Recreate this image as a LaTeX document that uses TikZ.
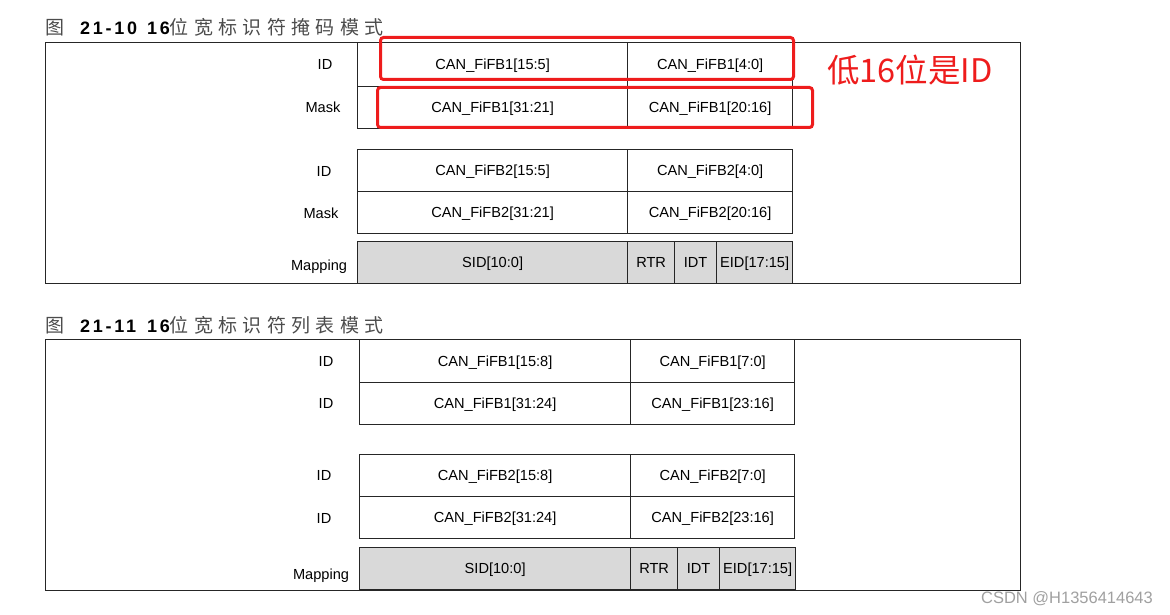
\documentclass[tikz,border=0pt]{standalone}
\usepackage{fontspec}
\setmainfont{Liberation Sans}
\newfontfamily\cjk{Noto Sans CJK SC}
\newfontfamily\titlecjk[LetterSpace=28]{Noto Sans CJK SC}
\newfontfamily\titlenum[LetterSpace=15]{Liberation Sans}
\definecolor{mapgray}{RGB}{217,217,217}
\definecolor{markred}{RGB}{238,28,28}
\definecolor{wmgray}{RGB}{160,160,160}
\tikzset{
  cell/.style={draw=black!85, line width=1.3pt, inner sep=0pt, anchor=north west,
    font=\fontsize{14.6}{16}\selectfont, text=black, text height=10.5pt, text depth=0.5pt},
  mapcell/.style={cell, fill=mapgray},
  lbl/.style={font=\fontsize{14.6}{16}\selectfont, text=black, inner sep=0pt, text height=10.5pt, text depth=0.5pt},
  frame/.style={draw=black!85, line width=1pt, inner sep=0pt, anchor=north west},
  redbox/.style={draw=markred, line width=3pt, rounded corners=3pt, inner sep=0pt, anchor=north west},
  ttl/.style={inner sep=0pt, anchor=base west}
}
\begin{document}
\begin{tikzpicture}[x=1pt,y=-1pt]
\useasboundingbox (0,0) rectangle (1170,615);
% ---------- Figure 21-10 ----------
\node[ttl] (t1a) at (45,34.5) {\fontsize{19}{21}\selectfont\cjk\color{black!70}图};
\node[ttl] (t1b) at (80,34.5) {\fontsize{18}{20}\selectfont\titlenum\bfseries 21-10};
\node[ttl] (t1c) at (147,34.5) {\fontsize{18}{20}\selectfont\titlenum\bfseries 16\fontsize{19}{21}\selectfont\titlecjk\mdseries\color{black!70}位宽标识符掩码模式};
\node[frame, minimum width=975pt, minimum height=241pt] (fr1) at (45,42) {};

\node[cell, minimum width=270pt, minimum height=44pt] (a11) at (357,42) {CAN\_FiFB1[15:5]};
\node[cell, minimum width=165pt, minimum height=44pt] (a12) at (627,42) {CAN\_FiFB1[4:0]};
\node[cell, minimum width=270pt, minimum height=42pt] (a21) at (357,86) {CAN\_FiFB1[31:21]};
\node[cell, minimum width=165pt, minimum height=42pt] (a22) at (627,86) {CAN\_FiFB1[20:16]};

\node[cell, minimum width=270pt, minimum height=42pt] (b11) at (357,149) {CAN\_FiFB2[15:5]};
\node[cell, minimum width=165pt, minimum height=42pt] (b12) at (627,149) {CAN\_FiFB2[4:0]};
\node[cell, minimum width=270pt, minimum height=42pt] (b21) at (357,191) {CAN\_FiFB2[31:21]};
\node[cell, minimum width=165pt, minimum height=42pt] (b22) at (627,191) {CAN\_FiFB2[20:16]};

\node[mapcell, minimum width=270pt, minimum height=42pt] (m11) at (357,241) {SID[10:0]};
\node[mapcell, minimum width=47pt, minimum height=42pt] (m12) at (627,241) {RTR};
\node[mapcell, minimum width=42pt, minimum height=42pt] (m13) at (674,241) {IDT};
\node[mapcell, minimum width=76pt, minimum height=42pt] (m14) at (716,241) {EID[17:15]};

\node[lbl] (l11) at (325,65) {ID};
\node[lbl] (l12) at (323,108) {Mask};
\node[lbl] (l13) at (324,171) {ID};
\node[lbl] (l14) at (321,213) {Mask};
\node[lbl] (l15) at (319,265) {Mapping};

\node[redbox, minimum width=413pt, minimum height=42pt] (r1) at (379,36) {};
\node[redbox, minimum width=435pt, minimum height=40pt] (r2) at (376,86) {};
\node[inner sep=0pt, text=markred, font=\fontsize{32.5}{34}\selectfont\cjk] (note) at (910,70) {低16位是ID};

% ---------- Figure 21-11 ----------
\node[ttl] (t2a) at (45,332) {\fontsize{19}{21}\selectfont\cjk\color{black!70}图};
\node[ttl] (t2b) at (80,332) {\fontsize{18}{20}\selectfont\titlenum\bfseries 21-11};
\node[ttl] (t2c) at (147,332) {\fontsize{18}{20}\selectfont\titlenum\bfseries 16\fontsize{19}{21}\selectfont\titlecjk\mdseries\color{black!70}位宽标识符列表模式};
\node[frame, minimum width=975pt, minimum height=251pt] (fr2) at (45,339) {};

\node[cell, minimum width=271pt, minimum height=43pt] (c11) at (359,339) {CAN\_FiFB1[15:8]};
\node[cell, minimum width=164pt, minimum height=43pt] (c12) at (630,339) {CAN\_FiFB1[7:0]};
\node[cell, minimum width=271pt, minimum height=42pt] (c21) at (359,382) {CAN\_FiFB1[31:24]};
\node[cell, minimum width=164pt, minimum height=42pt] (c22) at (630,382) {CAN\_FiFB1[23:16]};

\node[cell, minimum width=271pt, minimum height=42pt] (d11) at (359,454) {CAN\_FiFB2[15:8]};
\node[cell, minimum width=164pt, minimum height=42pt] (d12) at (630,454) {CAN\_FiFB2[7:0]};
\node[cell, minimum width=271pt, minimum height=42pt] (d21) at (359,496) {CAN\_FiFB2[31:24]};
\node[cell, minimum width=164pt, minimum height=42pt] (d22) at (630,496) {CAN\_FiFB2[23:16]};

\node[mapcell, minimum width=271pt, minimum height=42pt] (n11) at (359,547) {SID[10:0]};
\node[mapcell, minimum width=47pt, minimum height=42pt] (n12) at (630,547) {RTR};
\node[mapcell, minimum width=42pt, minimum height=42pt] (n13) at (677,547) {IDT};
\node[mapcell, minimum width=76pt, minimum height=42pt] (n14) at (719,547) {EID[17:15]};

\node[lbl] (l21) at (326,361) {ID};
\node[lbl] (l22) at (326,403) {ID};
\node[lbl] (l23) at (324,475) {ID};
\node[lbl] (l24) at (324,518) {ID};
\node[lbl] (l25) at (321,574) {Mapping};

\node[inner sep=0pt, text=wmgray, font=\fontsize{16.5}{18}\selectfont] (wm) at (1067,599) {CSDN @H1356414643};
\end{tikzpicture}
\end{document}
